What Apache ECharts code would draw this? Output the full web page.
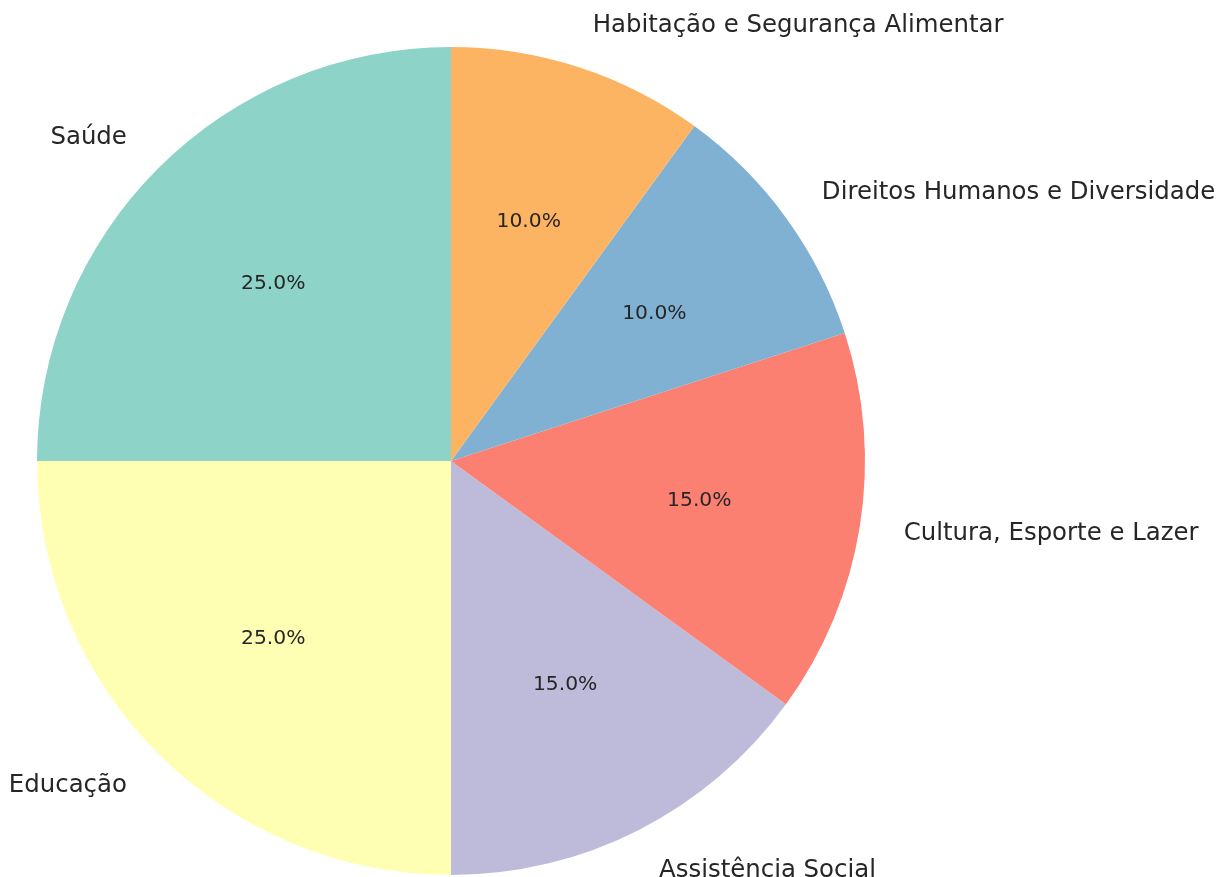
<!DOCTYPE html>
<html>
<head>
<meta charset="utf-8">
<script src="https://cdn.jsdelivr.net/npm/echarts@6/dist/echarts.min.js"></script>
<style>html,body{margin:0;padding:0;background:#fff;}#chart{width:1217px;height:877px;}</style>
</head>
<body>
<div id="chart"></div>
<script>
const categories = ['Saúde', 'Educação', 'Assistência Social', 'Cultura, Esporte e Lazer', 'Direitos Humanos e Diversidade', 'Habitação e Segurança Alimentar'];
const values = [25, 25, 15, 15, 10, 10];
const colors = ['#8dd3c7', '#ffffb3', '#bebada', '#fb8072', '#80b1d3', '#fdb462'];

const CX = 451, CY = 461, R = 414;
const FONT = 'DejaVu Sans';
const TEXT = '#262626';

const baseData = categories.map((c, i) => ({ name: c, value: values[i] }));

const chart = echarts.init(document.getElementById('chart'), null, { renderer: 'canvas' });
chart.setOption({
  animation: false,
  backgroundColor: '#ffffff',
  series: [
    {
      type: 'pie',
      center: [CX, CY],
      radius: [0, R],
      startAngle: 90,
      clockwise: false,
      silent: true,
      avoidLabelOverlap: false,
      label: { show: false },
      labelLine: { show: false },
      data: baseData.map((d, i) => ({ ...d, itemStyle: { color: colors[i] } }))
    },
    {
      type: 'pie',
      center: [CX, CY],
      radius: [0, R * 1.2],
      startAngle: 90,
      clockwise: false,
      silent: true,
      avoidLabelOverlap: false,
      itemStyle: { color: 'rgba(0,0,0,0)' },
      label: {
        show: true, position: 'inside',
        formatter: p => p.percent.toFixed(1) + '%',
        fontFamily: FONT, fontSize: 20.3, color: TEXT
      },
      labelLine: { show: false },
      data: baseData
    },
    {
      type: 'pie',
      center: [CX, CY],
      radius: [0, R * 2.2],
      startAngle: 90,
      clockwise: false,
      silent: true,
      avoidLabelOverlap: false,
      itemStyle: { color: 'rgba(0,0,0,0)' },
      label: {
        show: true, position: 'inside',
        formatter: '{b}',
        fontFamily: FONT, fontSize: 24.4, color: TEXT
      },
      labelLine: { show: false },
      labelLayout: function (params) {
        const r = params.labelRect;
        const ax = r.x + r.width / 2;
        const ay = r.y + r.height / 2;
        return { x: ax, y: ay + 1, align: ax >= CX ? 'left' : 'right', verticalAlign: 'middle' };
      },
      data: baseData
    }
  ]
});
</script>
</body>
</html>
